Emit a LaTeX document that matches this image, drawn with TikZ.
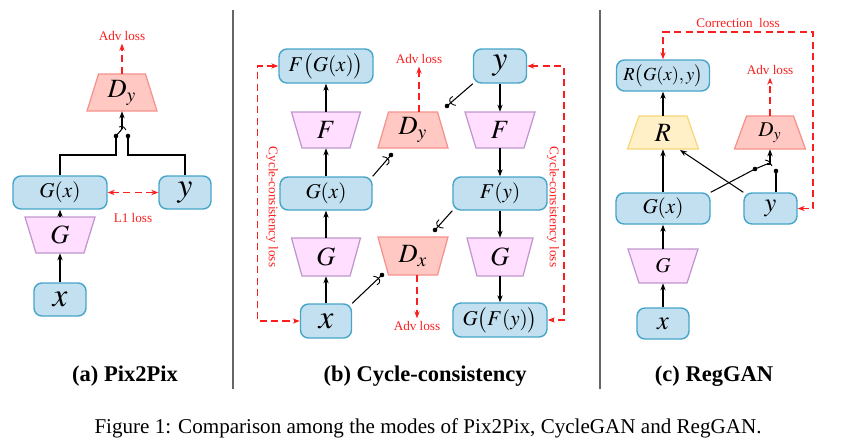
\documentclass[tikz,border=0pt]{standalone}
\usepackage{mathptmx}
\usepackage[no-math]{fontspec}
\setmainfont{Liberation Serif}
\usepackage{tikz}
\usetikzlibrary{arrows.meta,calc}

\definecolor{boxfill}{RGB}{194,224,240}
\definecolor{boxline}{RGB}{70,165,200}
\definecolor{genfill}{RGB}{255,222,255}
\definecolor{genline}{RGB}{190,150,205}
\definecolor{disfill}{RGB}{255,200,195}
\definecolor{disline}{RGB}{245,145,140}
\definecolor{regfill}{RGB}{255,240,200}
\definecolor{regline}{RGB}{245,215,120}
\definecolor{lossred}{RGB}{250,30,30}

\tikzset{
  databox/.style={draw=boxline,fill=boxfill,rounded corners=0.16cm,line width=0.8pt,inner sep=0pt},
  genshape/.style={draw=genline,fill=genfill,line width=0.7pt},
  disshape/.style={draw=disline,fill=disfill,line width=0.7pt},
  regshape/.style={draw=regline,fill=regfill,line width=0.7pt},
  flow/.style={->,line width=0.6pt},
  wire/.style={line width=0.6pt},
  lossline/.style={draw=lossred,line width=0.8pt,dash pattern=on 4pt off 2.5pt},
  losstext/.style={text=lossred,font=\fontsize{7.5}{9}\selectfont,inner sep=1.5pt},
  subcap/.style={font=\fontsize{12.8}{14}\selectfont\bfseries}
}

\newcommand{\symBig}{\fontsize{19}{19}\selectfont}
\newcommand{\symMid}{\fontsize{15}{15}\selectfont}
\newcommand{\symSmall}{\fontsize{12}{12}\selectfont}
\newcommand{\symTiny}{\fontsize{10.5}{10.5}\selectfont}

% trapezium: name, style, x, y, top width, bottom width, height, label
\newcommand{\tikzTrapNode}[8]{
  \path[#2] (#3-#5/2,#4-#7/2) -- (#3+#5/2,#4-#7/2) -- (#3+#6/2,#4+#7/2) -- (#3-#6/2,#4+#7/2) -- cycle;
  \node[inner sep=0pt,minimum width=#6*0.02cm,minimum height=#7*0.02cm] (#1) at (#3,#4) {#8};
}
% end of a switch wire: point, direction of the wire
\newcommand{\tikzSwitchDot}[2]{
  \fill (#1) circle (1.3pt);
  \draw[line width=0.5pt,shift={(#1)},rotate=#2] (-6pt,-2pt) .. controls (-3pt,-3pt) and (-1.5pt,0pt) .. (-4pt,3pt);
}

\begin{document}
\begin{tikzpicture}[x=0.02cm,y=-0.02cm,>={Stealth[length=4pt,width=3pt]}]
  \useasboundingbox (0,0) rectangle (865,447);

  % (a) Pix2Pix
  \tikzTrapNode{dya}{disshape}{122}{92.5}{47}{70}{37}{\symMid$D_y$}
  \node[databox,minimum width=1.88cm,minimum height=0.66cm] (gxa) at (60,192.5) {\symSmall$G(x)$};
  \node[databox,minimum width=1.04cm,minimum height=0.66cm] (ya) at (185,192.5) {\symBig$y$};
  \tikzTrapNode{ga}{genshape}{60}{235}{70}{48}{36}{\symMid$G$}
  \node[databox,minimum width=1.04cm,minimum height=0.66cm] (xa) at (60,299.5) {\symBig$x$};
  \draw[flow] (xa) -- (ga);
  \draw[flow] (ga) -- (gxa);

  \node[losstext] (adva) at (122,36) {Adv loss};
  \draw[lossline,->] (dya) -- (adva);
  \draw[lossline,<->] (gxa) -- (ya);
  \node[losstext] (l1a) at (133,218) {L1 loss};

  \coordinate (sa1) at (116,136);
  \coordinate (sa2) at (128,136);
  \coordinate (sa3) at (122,129);
  \draw[wire] (gxa.north) |- (116,155) -- (sa1);
  \draw[wire] (ya.north) |- (128,155) -- (sa2);
  \fill (sa1) circle (1.3pt);
  \fill (sa2) circle (1.3pt);
  \draw[wire] (sa1) -- (sa3);
  \draw[line width=0.5pt] (119,127) .. controls (123,126) .. (126,130);
  \draw[flow] (sa3) -- (dya.south);

  % (b) Cycle-consistency
  \node[databox,minimum width=1.88cm,minimum height=0.68cm] (fgxb) at (326,66) {\symSmall$F\big(G(x)\big)$};
  \tikzTrapNode{fb}{genshape}{326}{130}{69}{48}{36}{\symMid$F$}
  \node[databox,minimum width=1.84cm,minimum height=0.66cm] (gxb) at (326,193.5) {\symSmall$G(x)$};
  \tikzTrapNode{gb}{genshape}{326}{257}{69}{48}{38}{\symMid$G$}
  \node[databox,minimum width=1.02cm,minimum height=0.68cm] (xb) at (326,321) {\symBig$x$};

  \tikzTrapNode{dyb}{disshape}{413}{130}{49}{70}{36}{\symMid$D_y$}
  \tikzTrapNode{dxb}{disshape}{413}{256}{70}{49}{38}{\symMid$D_x$}

  \node[databox,minimum width=1.06cm,minimum height=0.68cm] (yb) at (500,66) {\symBig$y$};
  \tikzTrapNode{fb2}{genshape}{500}{130}{70}{48}{36}{\symMid$F$}
  \node[databox,minimum width=1.88cm,minimum height=0.66cm] (fyb) at (500,193.5) {\symSmall$F(y)$};
  \tikzTrapNode{gb2}{genshape}{500}{257}{66}{46}{38}{\symMid$G$}
  \node[databox,minimum width=1.88cm,minimum height=0.68cm] (gfyb) at (500,320) {\symSmall$G\big(F(y)\big)$};

  \draw[flow] (xb) -- (gb);
  \draw[flow] (gb) -- (gxb);
  \draw[flow] (gxb) -- (fb);
  \draw[flow] (fb) -- (fgxb);
  \draw[flow] (yb) -- (fb2);
  \draw[flow] (fb2) -- (fyb);
  \draw[flow] (fyb) -- (gb2);
  \draw[flow] (gb2) -- (gfyb);

  \node[losstext] (advb1) at (419,59) {Adv loss};
  \draw[lossline,->] (dyb.north -| advb1) -- (advb1);
  \node[losstext] (advb2) at (417,326) {Adv loss};
  \draw[lossline,->] (dxb.south -| advb2) -- (advb2);

  \draw[lossline,<->] (fgxb.west) -- ++(-21,0) |- (xb.west);
  \draw[lossline,<->] (yb.east) -- (564,66) |- (gfyb.east);
  \node[losstext,rotate=-90] (cycl) at (272,207) {Cycle-consistency loss};
  \node[losstext,rotate=-90] (cycr) at (553,207) {Cycle-consistency loss};

  \coordinate (sb1) at (391,155);
  \coordinate (sb2) at (435,230);
  \coordinate (sb3) at (382,275);
  \coordinate (sb4) at (447,106);
  \draw[wire] (gxb.north east) -- (sb1);
  \draw[wire] (fyb.south west) -- (sb2);
  \draw[wire] (xb.north east) -- (sb3);
  \draw[wire] (yb.south west) -- (sb4);
  \tikzSwitchDot{sb1}{48}
  \tikzSwitchDot{sb2}{230}
  \tikzSwitchDot{sb3}{45}
  \tikzSwitchDot{sb4}{221}

  % (c) RegGAN
  \node[databox,minimum width=1.86cm,minimum height=0.62cm] (rgc) at (663,75.5) {\symTiny$R\big(G(x),y\big)$};
  \tikzTrapNode{rc}{regshape}{663}{132.5}{48}{71}{33}{\symMid$R$}
  \tikzTrapNode{dyc}{disshape}{770}{132.5}{47}{71}{33}{\symSmall$D_y$}
  \node[databox,minimum width=1.88cm,minimum height=0.62cm] (gxc) at (663,208.5) {\symSmall$G(x)$};
  \node[databox,minimum width=1.06cm,minimum height=0.62cm] (yc) at (770.5,208.5) {\symMid$y$};
  \tikzTrapNode{gc}{genshape}{663}{266}{70}{48}{34}{\symSmall$G$}
  \node[databox,minimum width=1.04cm,minimum height=0.62cm] (xc) at (663,323.5) {\symMid$x$};

  \draw[flow] (xc) -- (gc);
  \draw[flow] (gc) -- (gxc);
  \draw[flow] (gxc) -- (rc);
  \draw[flow] (rc) -- (rgc);
  \coordinate (rin) at (680,150);
  \draw[flow] (yc.north west) -- (rin);

  \coordinate (sc1) at (755,169);
  \coordinate (sc2) at (776,171);
  \coordinate (sc3) at (767,164);
  \draw[wire] (gxc.north east) -- (sc1);
  \draw[wire] (yc.north -| sc2) -- (sc2);
  \fill (sc1) circle (1.3pt);
  \fill (sc2) circle (1.3pt);
  \draw[wire] (sc1) -- (sc3);
  \draw[line width=0.5pt] (765,160) .. controls (769,161) .. (772,166);
  \draw[flow] (sc3) -| (dyc.south);

  \node[losstext] (advc) at (770,70) {Adv loss};
  \draw[lossline,->] (dyc) -- (advc);
  \draw[lossline,<->] (rgc.north) |- (813,32) |- (yc.east);
  \node[losstext] (corc) at (738,23) {Correction\ \ loss};

  % separators and captions
  \draw[gray!80!black,line width=0.8pt] (233,10) -- (233,389);
  \draw[gray!80!black,line width=0.8pt] (600,10) -- (600,389);
  \node[subcap] (capa) at (125,376) {(a) Pix2Pix};
  \node[subcap] (capb) at (425,376) {(b) Cycle-consistency};
  \node[subcap] (capc) at (714,376) {(c) RegGAN};
  \node[font=\fontsize{12}{14}\selectfont] (figcap) at (428,428) {Figure 1: Comparison among the modes of Pix2Pix, CycleGAN and RegGAN.};
\end{tikzpicture}
\end{document}
